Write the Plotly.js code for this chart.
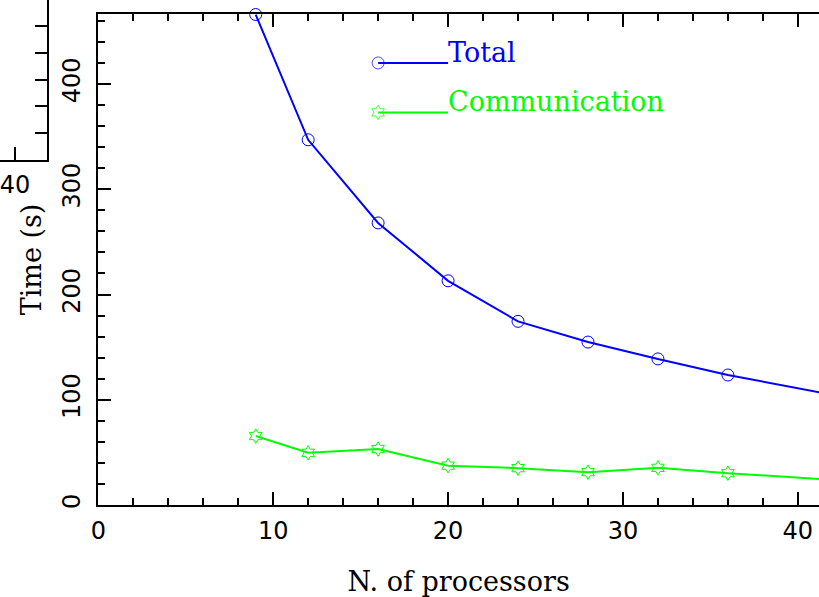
<!DOCTYPE html>
<html>
<head>
<meta charset="utf-8">
<script src="https://cdn.plot.ly/plotly-3.0.1.min.js"></script>
<style>html,body{margin:0;padding:0;background:#fff;}#chart{width:819px;height:597px;}</style>
</head>
<body>
<div id="chart"></div>
<script>
// Data
const nProc = [9, 12, 16, 20, 24, 28, 32, 36, 48];
const totalTime = [466, 347, 268, 213, 174.5, 154.8, 138.8, 123.5, 86];
const commTime = [65.5, 49.6, 53.2, 37.4, 35.0, 31.2, 35.3, 30.2, 17.6];
const seriesNames = ["Total", "Communication"];
// Legend sample positions (data units, as in the original plot)
const legendX = [16, 20];
const legendTotalY = [420, 420];
const legendCommY = [373, 373];
// Fragment of neighbouring panel
const fragTickVals = [40];
const fragTickText = ["40"];

const BLUE = "#0000ff", GREEN = "#00ff00";
const SERIF = "DejaVu Serif";
const SANS = "DejaVu Sans";

const traces = [
  {x: nProc, y: totalTime, mode: "lines+markers", cliponaxis: false,
   line: {color: BLUE, width: 2},
   marker: {symbol: "circle-open", size: 12, color: BLUE, line: {width: 1, color: BLUE}},
   showlegend: false},
  {x: nProc, y: commTime, mode: "lines+markers", cliponaxis: false,
   line: {color: GREEN, width: 2},
   marker: {symbol: "hexagram-open", size: 11, color: GREEN, line: {width: 1, color: GREEN}},
   showlegend: false},
  {x: legendX, y: legendTotalY, mode: "lines+markers", cliponaxis: false,
   line: {color: BLUE, width: 2},
   marker: {symbol: "circle-open", size: [12, 0], color: BLUE, line: {width: 1, color: BLUE}},
   showlegend: false, hoverinfo: "skip"},
  {x: legendX, y: legendCommY, mode: "lines+markers", cliponaxis: false,
   line: {color: GREEN, width: 2},
   marker: {symbol: "hexagram-open", size: [11, 0], color: GREEN, line: {width: 1, color: GREEN}},
   showlegend: false, hoverinfo: "skip"},
  {x: [], y: [], xaxis: "x2", yaxis: "y2", showlegend: false}
];

const W = 819, H = 597;
const layout = {
  width: W, height: H,
  margin: {l: 0, r: 0, t: 0, b: 0, pad: 0},
  paper_bgcolor: "#fff", plot_bgcolor: "rgba(0,0,0,0)",
  showlegend: false,
  xaxis: {
    domain: [98.3 / W, 1], range: [0, 41.21], autorange: false,
    showgrid: false, zeroline: false,
    showline: true, linecolor: "#000", linewidth: 2, mirror: "ticks",
    ticks: "inside", ticklen: 13, tickwidth: 2, tickcolor: "#000", dtick: 10, tick0: 0,
    minor: {ticks: "inside", ticklen: 7, tickwidth: 2, tickcolor: "#000", dtick: 2, showgrid: false},
    tickfont: {family: SANS, size: 24, color: "#000"},
    ticklabelstandoff: 3, ticklabeloverflow: "allow",
    title: {text: "N. of processors", font: {family: SERIF, size: 27, color: "#000"}, standoff: 30}
  },
  yaxis: {
    domain: [1 - 505 / H, 1 - 14 / H], range: [0, 466.5], autorange: false,
    showgrid: false, zeroline: false,
    showline: true, linecolor: "#000", linewidth: 2, mirror: false,
    ticks: "inside", ticklen: 13, tickwidth: 2, tickcolor: "#000", dtick: 100, tick0: 0,
    minor: {ticks: "inside", ticklen: 7, tickwidth: 2, tickcolor: "#000", dtick: 20, showgrid: false},
    tickangle: -90,
    tickfont: {family: SANS, size: 24, color: "#000"},
    ticklabelstandoff: 7, ticklabeloverflow: "allow",
    title: {text: "Time (s)", font: {family: SERIF, size: 27, color: "#000"}, standoff: 8}
  },
  xaxis2: {
    domain: [0, 46.7 / W], range: [39.06, 42], autorange: false, anchor: "y2",
    showgrid: false, zeroline: false,
    showline: true, linecolor: "#000", linewidth: 2,
    ticks: "inside", ticklen: 13, tickwidth: 2, tickcolor: "#000",
    tickmode: "array", tickvals: fragTickVals, ticktext: fragTickText,
    tickfont: {family: SANS, size: 24, color: "#000"}, ticklabelstandoff: 2,
    ticklabeloverflow: "allow"
  },
  yaxis2: {
    domain: [1 - 160 / H, 1], range: [0, 5.97], autorange: false, anchor: "x2", side: "right",
    showgrid: false, zeroline: false,
    showline: true, linecolor: "#000", linewidth: 2,
    ticks: "inside", ticklen: 12, tickwidth: 2, tickcolor: "#000", dtick: 1, tick0: 0,
    showticklabels: false
  },
  annotations: [
    {x: legendX[1], y: legendTotalY[1], xref: "x", yref: "y", text: seriesNames[0],
     showarrow: false, xanchor: "left", yanchor: "bottom", yshift: -7, xshift: -2,
     font: {family: SERIF, size: 27, color: BLUE}},
    {x: legendX[1], y: legendCommY[1], xref: "x", yref: "y", text: seriesNames[1],
     showarrow: false, xanchor: "left", yanchor: "bottom", yshift: -7, xshift: -2,
     font: {family: SERIF, size: 27, color: GREEN}}
  ]
};

Plotly.newPlot("chart", traces, layout, {staticPlot: true, displayModeBar: false});
</script>
</body>
</html>
